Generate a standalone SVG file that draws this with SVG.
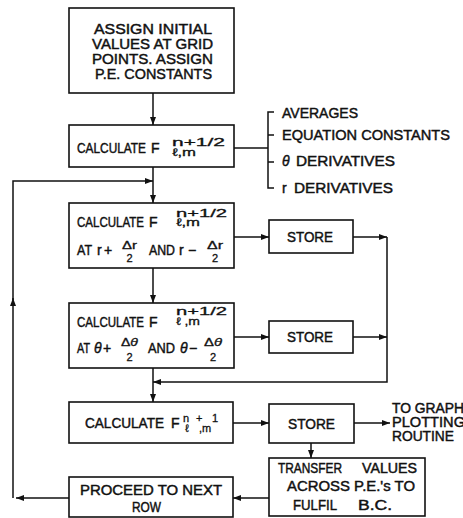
<svg xmlns="http://www.w3.org/2000/svg" width="463" height="518" viewBox="0 0 463 518">
<style>
.box{fill:#fff;stroke:#111;stroke-width:1.6}
.t{font-family:"Liberation Sans",Arial,sans-serif;font-size:14px;fill:#111;stroke:#111;stroke-width:0.45}
.s{font-family:"Liberation Sans","DejaVu Sans",Arial,sans-serif;font-size:11px;fill:#111;stroke:#111;stroke-width:0.3}
.i{font-style:italic}
.ln{fill:none;stroke:#111;stroke-width:1.5}
.ar{fill:none;stroke:#111;stroke-width:1.5;marker-end:url(#ah)}
</style>
<defs>
<marker id="ah" markerUnits="userSpaceOnUse" markerWidth="9" markerHeight="7" refX="8" refY="3.5" orient="auto">
<path d="M0,0.5 L8,3.5 L0,6.5 z" fill="#111"/>
</marker>
</defs>
<rect width="463" height="518" fill="#fff"/>

<g id="connectors">
<path class="ar" d="M153,93 V125"/>
<path class="ar" d="M153,167 V203"/>
<path class="ln" d="M234,148 H268"/>
<path class="ln" d="M274,112 H268 V188 H274 M268,135 H274 M268,162 H274"/>
<path class="ar" d="M69,498 H16"/>
<path class="ar" d="M13,498 V298"/>
<path class="ar" d="M13,300 V181 H153"/>
<path class="ar" d="M234,237 H269"/>
<path class="ar" d="M353,237 H387"/>
<path class="ar" d="M387,237 V382 H153"/>
<path class="ar" d="M153,268 V303"/>
<path class="ar" d="M234,337 H269"/>
<path class="ar" d="M353,337 H387"/>
<path class="ar" d="M153,368 V402"/>
<path class="ar" d="M233,423 H269"/>
<path class="ar" d="M354,423 H390"/>
<path class="ar" d="M311,443 V458"/>
<path class="ar" d="M269,498 H233"/>
</g>

<g id="assign">
<rect class="box" x="69" y="8" width="165" height="85"/>
<text class="t" x="94" y="34" textLength="118" lengthAdjust="spacingAndGlyphs">ASSIGN INITIAL</text>
<text class="t" x="92" y="48.5" textLength="121" lengthAdjust="spacingAndGlyphs">VALUES AT GRID</text>
<text class="t" x="92" y="63.5" textLength="121" lengthAdjust="spacingAndGlyphs">POINTS. ASSIGN</text>
<text class="t" x="95" y="78.5" textLength="117" lengthAdjust="spacingAndGlyphs">P.E. CONSTANTS</text>
</g>

<g id="calc-half">
<rect class="box" x="69" y="125" width="165" height="42"/>
<text class="t" x="77" y="153" textLength="69" lengthAdjust="spacingAndGlyphs">CALCULATE</text>
<text class="t" x="151" y="153">F</text>
<text class="s" x="172" y="146" textLength="53" lengthAdjust="spacingAndGlyphs">n+1/2</text>
<text class="s" x="172" y="156" textLength="24" lengthAdjust="spacingAndGlyphs">ℓ,m</text>
</g>

<g id="list">
<text class="t" x="282" y="118" textLength="76" lengthAdjust="spacingAndGlyphs">AVERAGES</text>
<text class="t" x="282" y="140" textLength="168" lengthAdjust="spacingAndGlyphs">EQUATION CONSTANTS</text>
<text class="t i" x="282" y="166">θ</text>
<text class="t" x="296" y="166" textLength="99" lengthAdjust="spacingAndGlyphs">DERIVATIVES</text>
<text class="t" x="282" y="193">r</text>
<text class="t" x="294" y="193" textLength="99" lengthAdjust="spacingAndGlyphs">DERIVATIVES</text>
</g>

<g id="calc-r">
<rect class="box" x="69" y="203" width="165" height="65"/>
<text class="t" x="77" y="227" textLength="67" lengthAdjust="spacingAndGlyphs">CALCULATE</text>
<text class="t" x="149" y="227">F</text>
<text class="s" x="176" y="217" textLength="51" lengthAdjust="spacingAndGlyphs">n+1/2</text>
<text class="s" x="176" y="226" textLength="24" lengthAdjust="spacingAndGlyphs">ℓ,m</text>
<text class="t" x="77" y="255" textLength="15" lengthAdjust="spacingAndGlyphs">AT</text>
<text class="t" x="97" y="255">r</text>
<text class="t" x="104" y="255" font-size="15">+</text>
<text class="s" x="122" y="249" textLength="15" lengthAdjust="spacingAndGlyphs">Δr</text>
<text class="s" x="126.5" y="262">2</text>
<text class="t" x="149" y="255" textLength="26" lengthAdjust="spacingAndGlyphs">AND</text>
<text class="t" x="179" y="255">r</text>
<text class="t" x="188" y="255">−</text>
<text class="s" x="207" y="249" textLength="16" lengthAdjust="spacingAndGlyphs">Δr</text>
<text class="s" x="212" y="262">2</text>
</g>

<g id="store1">
<rect class="box" x="269" y="220" width="84" height="33"/>
<text class="t" x="287" y="242" textLength="46" lengthAdjust="spacingAndGlyphs">STORE</text>
</g>

<g id="calc-theta">
<rect class="box" x="69" y="303" width="165" height="65"/>
<text class="t" x="77" y="327" textLength="67" lengthAdjust="spacingAndGlyphs">CALCULATE</text>
<text class="t" x="149" y="327">F</text>
<text class="s" x="176" y="315" textLength="51" lengthAdjust="spacingAndGlyphs">n+1/2</text>
<text class="s" x="176" y="325" textLength="24" lengthAdjust="spacingAndGlyphs">ℓ ,m</text>
<text class="t" x="77" y="353" textLength="13" lengthAdjust="spacingAndGlyphs">AT</text>
<text class="t i" x="94" y="353" font-size="12">θ</text>
<text class="t" x="103" y="353" font-size="15">+</text>
<text class="s" x="121" y="346" textLength="17" lengthAdjust="spacingAndGlyphs"><tspan>Δ</tspan><tspan class="i">θ</tspan></text>
<text class="s" x="126.5" y="361">2</text>
<text class="t" x="148" y="353" textLength="27" lengthAdjust="spacingAndGlyphs">AND</text>
<text class="t i" x="180" y="353" font-size="12">θ</text>
<text class="t" x="189" y="353">−</text>
<text class="s" x="204" y="346" textLength="18" lengthAdjust="spacingAndGlyphs"><tspan>Δ</tspan><tspan class="i">θ</tspan></text>
<text class="s" x="210" y="361">2</text>
</g>

<g id="store2">
<rect class="box" x="269" y="321" width="84" height="32"/>
<text class="t" x="287" y="342" textLength="46" lengthAdjust="spacingAndGlyphs">STORE</text>
</g>

<g id="calc-full">
<rect class="box" x="69" y="402" width="164" height="41"/>
<text class="t" x="85" y="428" textLength="79" lengthAdjust="spacingAndGlyphs">CALCULATE</text>
<text class="t" x="171" y="428">F</text>
<text class="s" x="183" y="422" font-size="12">n</text>
<text class="s" x="196" y="422" font-size="12">+</text>
<text class="s" x="212" y="422" font-size="12">1</text>
<text class="s" x="185" y="432" font-size="12">ℓ</text>
<text class="s" x="199" y="432" font-size="12">,m</text>
</g>

<g id="store3">
<rect class="box" x="269" y="404" width="85" height="39"/>
<text class="t" x="288" y="429" textLength="47" lengthAdjust="spacingAndGlyphs">STORE</text>
</g>

<g id="plot">
<text class="t" x="392" y="413" textLength="72" lengthAdjust="spacingAndGlyphs">TO GRAPH</text>
<text class="t" x="392" y="427" textLength="73" lengthAdjust="spacingAndGlyphs">PLOTTING</text>
<text class="t" x="392" y="441" textLength="62" lengthAdjust="spacingAndGlyphs">ROUTINE</text>
</g>

<g id="transfer">
<rect class="box" x="269" y="458" width="156" height="58"/>
<text class="t" x="278" y="473" textLength="64" lengthAdjust="spacingAndGlyphs">TRANSFER</text>
<text class="t" x="362" y="473" textLength="55" lengthAdjust="spacingAndGlyphs">VALUES</text>
<text class="t" x="287" y="491" textLength="128" lengthAdjust="spacingAndGlyphs">ACROSS P.E.'s TO</text>
<text class="t" x="293" y="510" textLength="44" lengthAdjust="spacingAndGlyphs">FULFIL</text>
<text class="t" x="358" y="510" textLength="34" lengthAdjust="spacingAndGlyphs">B.C.</text>
</g>

<g id="proceed">
<rect class="box" x="69" y="477" width="164" height="40"/>
<text class="t" x="80" y="495" textLength="142" lengthAdjust="spacingAndGlyphs">PROCEED TO NEXT</text>
<text class="t" x="132" y="512" textLength="29" lengthAdjust="spacingAndGlyphs">ROW</text>
</g>
</svg>
